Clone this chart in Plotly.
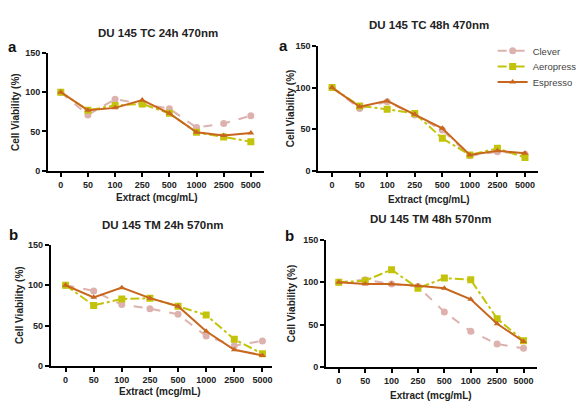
import plotly.graph_objects as go

categories = ["0", "50", "100", "250", "500", "1000", "2500", "5000"]
series_names = ["Clever", "Aeropress", "Espresso"]

tc24_clever = [100, 71, 91, 85, 79, 55, 60, 70]
tc24_aeropress = [100, 77, 83, 85, 73, 49, 43, 37]
tc24_espresso = [100, 77, 80, 90, 73, 49, 45, 48]

tc48_clever = [100, 75, 83, 67, 49, 18, 23, 20]
tc48_aeropress = [100, 78, 74, 69, 39, 19, 27, 16]
tc48_espresso = [100, 77, 84, 68, 51, 19, 24, 21]

tm24_clever = [100, 93, 76, 71, 64, 37, 25, 31]
tm24_aeropress = [100, 75, 83, 84, 74, 63, 33, 15]
tm24_espresso = [100, 85, 97, 84, 74, 43, 20, 13]

tm48_clever = [100, 103, 98, 95, 65, 42, 27, 22]
tm48_aeropress = [100, 102, 115, 93, 105, 103, 57, 31]
tm48_espresso = [100, 98, 98, 96, 93, 80, 51, 30]

titles = ["DU 145 TC 24h 470nm", "DU 145 TC 48h 470nm",
          "DU 145 TM 24h 570nm", "DU 145 TM 48h 570nm"]
letters = ["a", "a", "b", "b"]
y_ticks = [0, 50, 100, 150]

panels = [
    [tc24_clever, tc24_aeropress, tc24_espresso],
    [tc48_clever, tc48_aeropress, tc48_espresso],
    [tm24_clever, tm24_aeropress, tm24_espresso],
    [tm48_clever, tm48_aeropress, tm48_espresso],
]

W, H = 582, 406
colors = ["#DDB2AE", "#C3C30C", "#C8661E"]
dashes = ["dash", "dashdot", "solid"]
symbols = ["circle", "square", "triangle-up"]
legend_ids = ["legend", "legend2", "legend3"]
legend_rows = [47, 63, 79]

# layout in pixels: (x_left, x_right, y_top(150), y_bottom(0), xrange)
geo = [
    (49, 270, 49, 170, [-0.47, 7.5]),
    (325, 549, 42, 170, [-0.5, 7.46]),
    (52, 278, 246, 370, [-0.52, 7.35]),
    (333, 548, 241, 371, [-0.48, 7.5]),
]
title_pos = [(161, 29), (438, 20), (166, 226), (440, 219)]
letter_pos = [(13, 43), (289, 42), (14, 235), (296, 236)]
ytitle_pos = [(16, 110), (297, 106), (20, 308), (298, 306)]
xtitle_pos = [(160, 197), (438, 199), (163, 396), (440, 400)]

font = "Liberation Sans, Arial, sans-serif"
fig = go.Figure()
annotations = []

for i, data in enumerate(panels):
    xl, xr, yt, yb, xr_range = geo[i]
    xa = "xaxis" if i == 0 else f"xaxis{i+1}"
    ya = "yaxis" if i == 0 else f"yaxis{i+1}"
    xref = "x" if i == 0 else f"x{i+1}"
    yref = "y" if i == 0 else f"y{i+1}"
    for j, vals in enumerate(data):
        fig.add_trace(go.Scatter(
            x=categories, y=vals, xaxis=xref, yaxis=yref,
            mode="lines+markers", name=series_names[j],
            showlegend=(i == 1), legend=legend_ids[j],
            line=dict(color=colors[j], width=2, dash=dashes[j]),
            marker=dict(color=colors[j], symbol=symbols[j], size=7 if j != 2 else 6),
        ))
    fig.update_layout({
        xa: dict(domain=[xl / W, xr / W], type="category", range=xr_range,
                 showline=True, linecolor="black", linewidth=2,
                 ticks="outside", ticklen=4, tickwidth=1.5, tickcolor="black",
                 showgrid=False, zeroline=False, anchor=yref,
                 tickfont=dict(family=font, size=9, color="#222", weight="bold"),
                 categoryorder="array", categoryarray=categories),
        ya: dict(domain=[1 - yb / H, 1 - yt / H], range=[0, 150],
                 tickvals=y_ticks, showline=True, linecolor="black", linewidth=2,
                 ticks="outside", ticklen=4, tickwidth=1.5, tickcolor="black",
                 showgrid=False, zeroline=False, anchor=xref,
                 tickfont=dict(family=font, size=9, color="#222", weight="bold")),
    })
    tx, ty = title_pos[i]
    annotations.append(dict(text="<b>" + titles[i] + "</b>", x=tx / W, y=1 - ty / H,
                            xref="paper", yref="paper", showarrow=False,
                            xanchor="center", yanchor="middle",
                            font=dict(family=font, size=11.5, color="#222")))
    lx, ly = letter_pos[i]
    annotations.append(dict(text="<b>" + letters[i] + "</b>", x=lx / W, y=1 - ly / H,
                            xref="paper", yref="paper", showarrow=False,
                            xanchor="center", yanchor="middle",
                            font=dict(family=font, size=15, color="#111")))
    yx, yy = ytitle_pos[i]
    annotations.append(dict(text="<b>Cell Viability (%)</b>", x=yx / W, y=1 - yy / H,
                            xref="paper", yref="paper", showarrow=False, textangle=-90,
                            xanchor="center", yanchor="middle",
                            font=dict(family=font, size=10, color="#222")))
    xx, xy = xtitle_pos[i]
    annotations.append(dict(text="<b>Extract (mcg/mL)</b>", x=xx / W, y=1 - xy / H,
                            xref="paper", yref="paper", showarrow=False,
                            xanchor="center", yanchor="middle",
                            font=dict(family=font, size=10, color="#222")))

legend_layout = {}
for j, lid in enumerate(legend_ids):
    legend_layout[lid] = dict(x=503 / W, y=1 - legend_rows[j] / H,
                              xanchor="left", yanchor="middle",
                              font=dict(family=font, size=9.5, color="#444"),
                              itemwidth=30, bgcolor="rgba(0,0,0,0)",
                              borderwidth=0)

fig.update_layout(
    width=W, height=H, margin=dict(l=0, r=0, t=0, b=0),
    paper_bgcolor="white", plot_bgcolor="white",
    annotations=annotations,
    **legend_layout,
)

fig.write_html("out.html")
